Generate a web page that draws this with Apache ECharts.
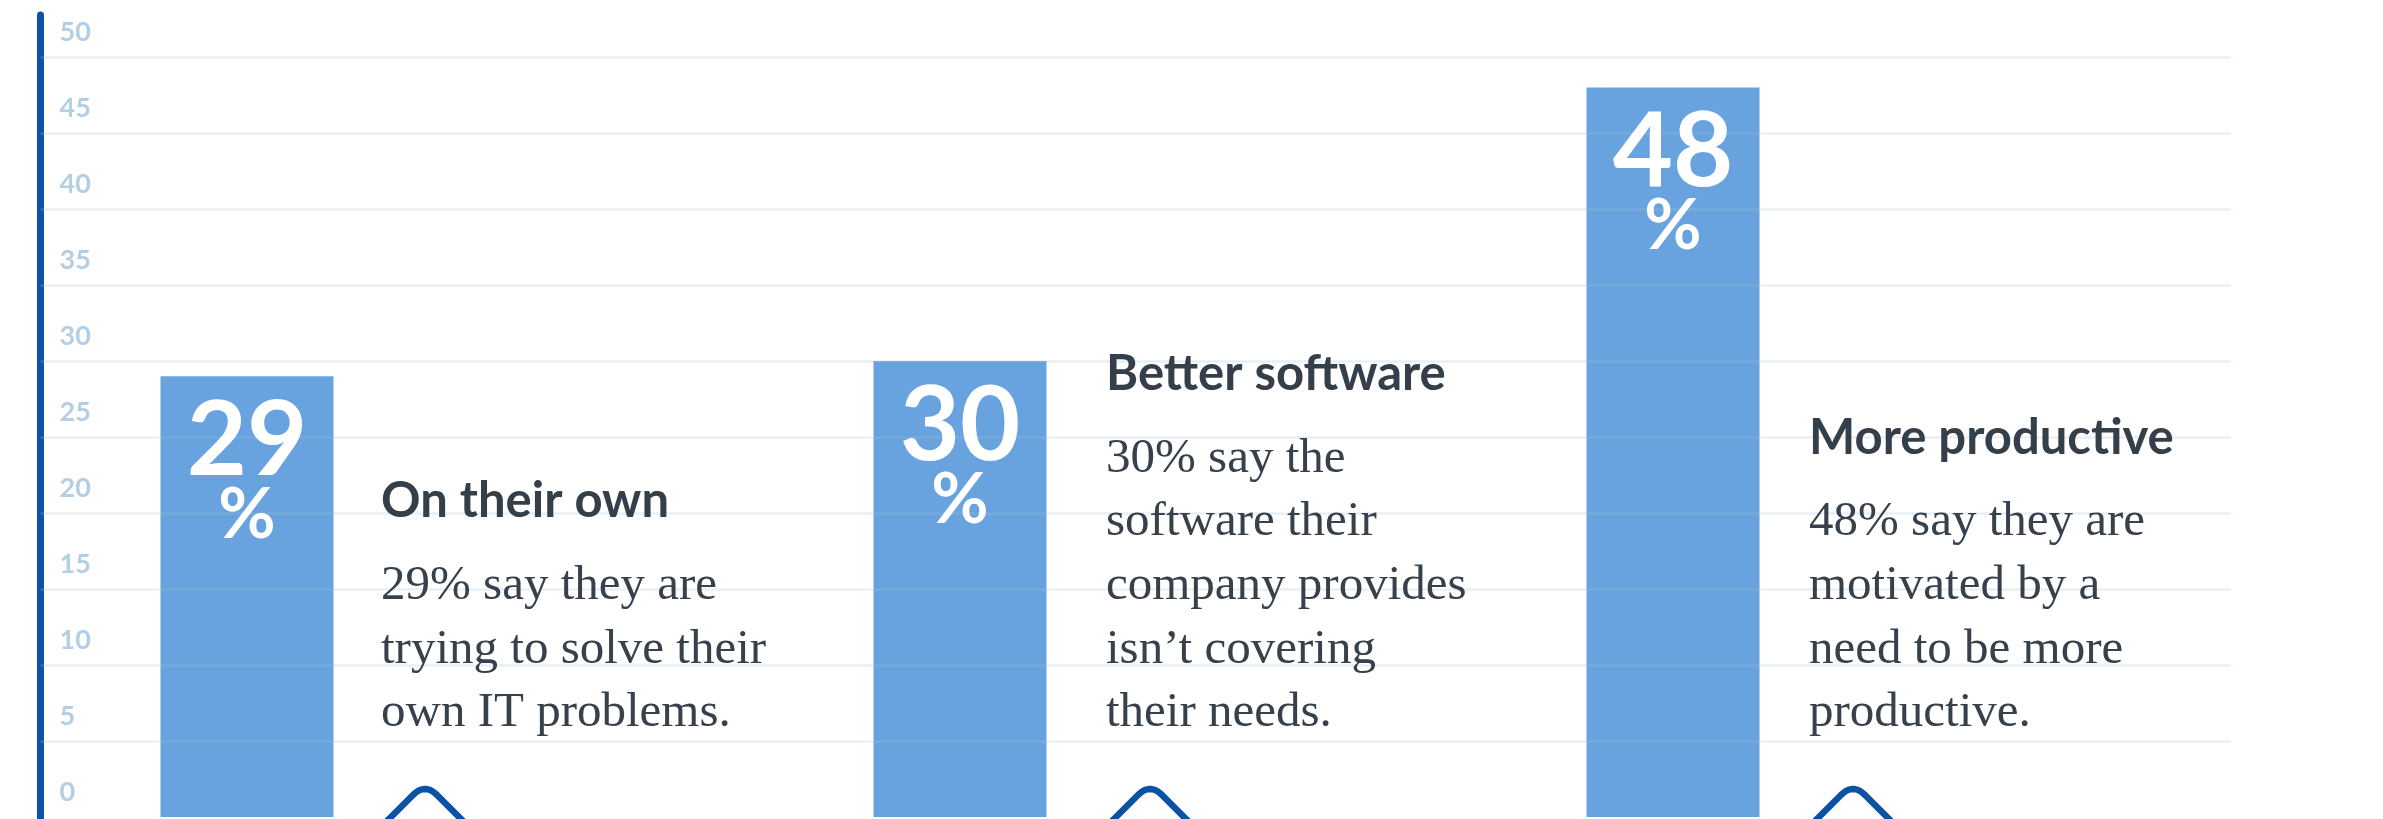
<!DOCTYPE html>
<html>
<head>
<meta charset="utf-8">
<script src="https://cdn.jsdelivr.net/npm/echarts@6/dist/echarts.min.js"></script>
<style>
  html, body { margin: 0; padding: 0; background: #ffffff; }
  #chart { width: 2383px; height: 819px; }
</style>
</head>
<body>
<div id="chart"></div>
<script>
// ---- data ----
const categories = ['On their own', 'Better software', 'More productive'];
const values = [29, 30, 48];
const yMin = 0;
const yMax = 50;
const yInterval = 5;
const titles = ['On their own', 'Better software', 'More productive'];
const descriptions = [
  ['29% say they are', 'trying to solve their', 'own IT problems.'],
  ['30% say the', 'software their', 'company provides', 'isn\u2019t covering', 'their needs.'],
  ['48% say they are', 'motivated by a', 'need to be more', 'productive.']
];

// ---- style / layout ----
const barColor = '#68a3df';
const axisColor = '#0c53a5';
const labelColor = '#b3cfe3';
const textColor = '#36414c';
const blockX = [381, 1106, 1809];
const bodyBottomBaseline = 724;
const bodyLineHeight = 63.7;
const titleGap = 81;
const serifMid = 16.5;   // middle -> baseline, Liberation Serif 49px
const sansMid = 19;      // middle -> baseline, Lato 49px

const chart = echarts.init(document.getElementById('chart'), null, { renderer: 'canvas' });

function chevronPoints(ax) {
  const pts = [[ax - 50, 833]];
  const p0 = [ax - 12, 795], c = [ax, 783], p1 = [ax + 12, 795];
  for (let k = 0; k <= 10; k++) {
    const t = k / 10;
    const a = (1 - t) * (1 - t), b = 2 * (1 - t) * t, d = t * t;
    pts.push([a * p0[0] + b * c[0] + d * p1[0], a * p0[1] + b * c[1] + d * p1[1]]);
  }
  pts.push([ax + 50, 833]);
  return pts;
}

const graphics = [];
blockX.forEach(function (x, i) {
  const lines = descriptions[i];
  const n = lines.length;
  graphics.push({
    type: 'text', z: 20,
    style: {
      x: x, y: bodyBottomBaseline + bodyLineHeight / 2 - serifMid + 6,
      text: lines.join('\n'),
      font: '49px "Liberation Serif"',
      fill: textColor,
      lineHeight: bodyLineHeight,
      verticalAlign: 'bottom', align: 'left'
    }
  });
  const titleBase = bodyBottomBaseline - (n - 1) * bodyLineHeight - titleGap;
  graphics.push({
    type: 'text', z: 20,
    style: {
      x: x, y: titleBase + 25 - sansMid + 5,
      text: titles[i],
      font: 'bold 49px Lato',
      fill: '#353f4a',
      lineHeight: 50,
      verticalAlign: 'bottom', align: 'left'
    }
  });
  graphics.push({
    type: 'polyline', z: 20,
    shape: { points: chevronPoints(x + 44) },
    style: { fill: null, stroke: '#0c52a4', lineWidth: 6.5, lineJoin: 'round' }
  });
});

const option = {
  animation: false,
  backgroundColor: '#ffffff',
  grid: [
    { left: 40.5, right: 152, top: 15, bottom: 0, outerBoundsMode: 'none', containLabel: false },
    { left: 40.5, right: 152, top: 57, bottom: 2, outerBoundsMode: 'none', containLabel: false },
    { left: 247, right: 710, top: 57, bottom: 2, outerBoundsMode: 'none', containLabel: false }
  ],
  xAxis: [
    { gridIndex: 0, type: 'value', show: false },
    { gridIndex: 1, type: 'value', show: false },
    { gridIndex: 2, type: 'category', data: categories, boundaryGap: false, show: false }
  ],
  yAxis: [
    {
      gridIndex: 0, type: 'value', min: 0, max: 1,
      axisLine: { show: true, lineStyle: { color: axisColor, width: 7 } },
      axisTick: { show: false }, axisLabel: { show: false }, splitLine: { show: false }
    },
    {
      gridIndex: 1, type: 'value', min: yMin, max: yMax, interval: yInterval, z: 3,
      axisLine: { show: false }, axisTick: { show: false },
      axisLabel: {
        inside: true, margin: 19, color: labelColor,
        fontFamily: 'Lato', fontWeight: 'bold', fontSize: 27,
        verticalAlign: 'bottom', lineHeight: 50
      },
      splitLine: { show: true, showMinLine: false, lineStyle: { color: 'rgba(167,195,215,0.25)', width: 2.5 } }
    },
    { gridIndex: 2, type: 'value', min: yMin, max: yMax, show: false }
  ],
  series: [
    {
      type: 'bar', xAxisIndex: 2, yAxisIndex: 2, data: values,
      barWidth: 173, clip: false, z: 1,
      itemStyle: { color: barColor },
      label: { show: false }
    },
    {
      type: 'bar', xAxisIndex: 2, yAxisIndex: 2, data: values,
      barWidth: 173, barGap: '-100%', clip: false, z: 10,
      itemStyle: { color: 'rgba(0,0,0,0)' },
      label: {
        show: true, position: 'insideTop', distance: 13,
        formatter: function (p) { return '{n|' + p.value + '}\n{p|%}'; },
        rich: {
          n: { fontFamily: 'Lato', fontWeight: 'bold', fontSize: 104, lineHeight: 104, color: '#ffffff' },
          p: { fontFamily: 'Lato', fontWeight: 'bold', fontSize: 70, lineHeight: 44, color: '#ffffff' }
        }
      }
    }
  ],
  graphic: graphics
};
chart.setOption(option);
</script>
</body>
</html>
